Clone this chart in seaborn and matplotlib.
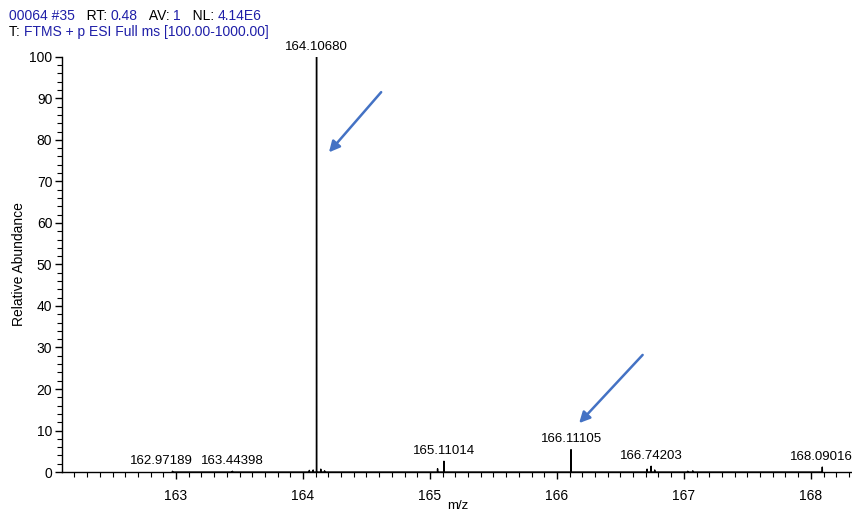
import pandas as pd
import matplotlib.pyplot as plt
import matplotlib.ticker as mticker
import seaborn as sns

# spectrum peaks (m/z, relative abundance)
peak_mz = [162.97189, 163.44398, 164.05, 164.08, 164.10680, 164.14, 164.17,
           165.06, 165.11014, 166.11105, 166.71, 166.74203, 166.77, 167.03,
           167.07, 168.09016]
peak_int = [0.2, 0.2, 0.4, 0.5, 100, 0.7, 0.3,
            0.8, 2.6, 5.4, 0.7, 1.4, 0.5, 0.2,
            0.3, 1.2]

# labelled peaks
label_mz = [162.97189, 163.44398, 164.10680, 165.11014, 166.11105, 166.74203, 168.09016]
label_int = [0.2, 0.2, 100, 2.6, 5.4, 1.4, 1.2]
label_shift = [-0.09, 0, 0, 0, 0, 0, -0.005]

header1 = [("00064 #35", "blue"), ("   RT: ", "k"), ("0.48", "blue"), ("   AV: ", "k"),
           ("1", "blue"), ("   NL: ", "k"), ("4.14E6", "blue")]
header2 = [("T: ", "k"), ("FTMS + p ESI Full ms [100.00-1000.00]", "blue")]

sns.set_theme(style="ticks", rc={'text.color': 'black', 'axes.labelcolor': 'black',
                                 'xtick.color': 'black', 'ytick.color': 'black',
                                 'axes.edgecolor': 'black'})
plt.rcParams['font.family'] = ['Liberation Sans', 'DejaVu Sans']
plt.rcParams['font.size'] = 10

# stick spectrum as a line through (mz,0)-(mz,h)-(mz,0)
rows = []
for mz, h in zip(peak_mz, peak_int):
    rows += [(mz - 0.001, 0), (mz, h), (mz + 0.001, 0)]
spec = pd.DataFrame(rows, columns=['mz', 'abund'])

fig = plt.figure(figsize=(8.53, 5.12), dpi=100)
ax = fig.add_axes([0.0727, 0.078, 0.927, 0.811])
sns.lineplot(data=spec, x='mz', y='abund', sort=False, estimator=None,
             color='black', lw=1.0, ax=ax)

ax.set_xlim(162.102, 168.33)
ax.set_ylim(0, 100)
sns.despine(ax=ax)
ax.spines['left'].set_linewidth(1.0)
ax.spines['bottom'].set_linewidth(1.0)
ax.xaxis.set_major_locator(mticker.MultipleLocator(1))
ax.xaxis.set_minor_locator(mticker.MultipleLocator(0.1))
ax.yaxis.set_major_locator(mticker.MultipleLocator(10))
ax.yaxis.set_minor_locator(mticker.MultipleLocator(2))
ax.tick_params(axis='both', which='major', length=5, width=1, labelsize=10, pad=2)
ax.tick_params(axis='both', which='minor', length=3.5, width=0.8)
ax.tick_params(axis='x', pad=7)
ax.set_xlabel('m/z', fontsize=9.5, labelpad=-2)
ax.set_ylabel('Relative Abundance', fontsize=10, labelpad=2)

for mz, h, s in zip(label_mz, label_int, label_shift):
    ax.annotate(f"{mz:.5f}", (mz + s, h), xytext=(0, 3), textcoords='offset points',
                ha='center', va='bottom', fontsize=9.5, annotation_clip=False)

arrow = dict(arrowstyle='-|>', color='#4472C4', lw=1.8, mutation_scale=16)
ax.annotate('', xy=(164.19, 76.5), xytext=(164.63, 92), arrowprops=arrow, annotation_clip=False)
ax.annotate('', xy=(166.16, 11.3), xytext=(166.69, 28.7), arrowprops=arrow, annotation_clip=False)

# header lines with mixed colours
fig.canvas.draw()
r = fig.canvas.get_renderer()
for pieces, ypix in [(header1, 16), (header2, 32)]:
    x = 9
    for txt, c in pieces:
        col = '#1f1fa8' if c == 'blue' else 'black'
        t = fig.text(x / 853, 1 - ypix / 512, txt, color=col, fontsize=10, va='center', ha='left')
        x += t.get_window_extent(r).width

fig.savefig('out.png', dpi=100)
